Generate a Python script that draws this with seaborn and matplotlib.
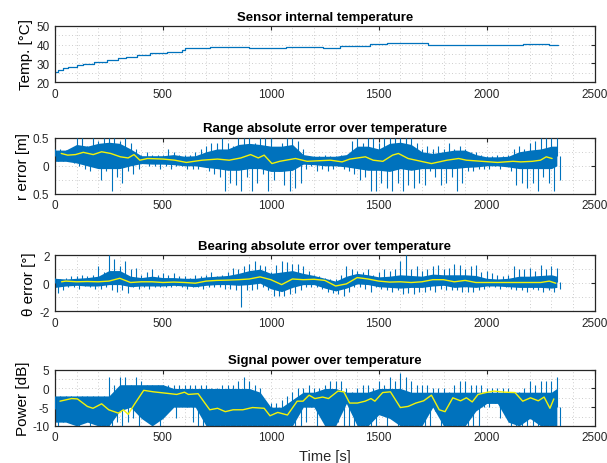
import numpy as np
import pandas as pd
import matplotlib
matplotlib.use("Agg")
import matplotlib.pyplot as plt
import seaborn as sns
from matplotlib.ticker import MultipleLocator, FixedLocator, FixedFormatter

# ---------------- data ----------------
# temperature staircase
temp_t = [0, 12, 35, 60, 100, 130, 180, 240, 290, 330, 380, 440, 520, 590, 600, 720,
          900, 930, 1070, 1240, 1320, 1460, 1540, 1730, 2170, 2290, 2330]
temp_v = [25.5, 26.5, 27.5, 28.3, 29.0, 29.8, 30.8, 31.6, 32.6, 33.5, 34.5, 35.5, 36.3,
          37.3, 38.0, 38.8, 38.3, 38.0, 38.6, 38.3, 39.5, 40.5, 40.8, 40.0, 40.5, 40.0, 40.0]

# common sample grids
t_spk = list(range(0, 2326, 25))            # 0..2325 every 25 s (94 points)
t_core = list(range(0, 2301, 50)) + [2325]  # 48 points

# range error
rng_hi = [0.3, 0.3, 0.28, 0.3, 0.5, 0.5, 0.35, 0.5, 0.45, 0.5, 0.5, 0.5, 0.45, 0.5, 0.4, 0.3,
          0.2, 0.25, 0.2, 0.2, 0.2, 0.3, 0.25, 0.2, 0.2, 0.2, 0.25, 0.3, 0.35, 0.4, 0.4, 0.5,
          0.4, 0.35, 0.5, 0.5, 0.5, 0.4, 0.5, 0.5, 0.5, 0.3, 0.4, 0.5, 0.5, 0.45, 0.3, 0.18,
          0.18, 0.18, 0.2, 0.18, 0.18, 0.2, 0.18, 0.45, 0.5, 0.4, 0.5, 0.5, 0.4, 0.5, 0.5, 0.5,
          0.5, 0.5, 0.5, 0.4, 0.3, 0.35, 0.3, 0.35, 0.3, 0.4, 0.3, 0.35, 0.3, 0.25, 0.25, 0.2,
          0.18, 0.18, 0.2, 0.18, 0.2, 0.3, 0.35, 0.3, 0.4, 0.45, 0.5, 0.5, 0.5, 0.5]
rng_lo = [0.08, 0.08, 0.1, 0.05, 0.0, -0.05, -0.1, 0.0, -0.25, -0.1, -0.45, -0.2, -0.3, -0.1,
          -0.15, -0.05, 0.05, 0.0, 0.0, -0.05, 0.0, -0.05, 0.0, 0.0, -0.05, -0.05, -0.05, 0.0,
          -0.1, -0.15, -0.2, -0.45, -0.3, -0.35, -0.45, -0.2, -0.45, -0.3, -0.15, -0.45, -0.25,
          -0.1, -0.35, -0.45, -0.4, -0.3, -0.05, 0.0, -0.1, -0.05, -0.1, -0.05, 0.0, -0.05,
          -0.1, -0.15, -0.25, -0.2, -0.45, -0.45, -0.3, -0.4, -0.45, -0.3, -0.45, -0.35, -0.4,
          -0.3, -0.35, -0.1, -0.2, -0.35, -0.3, -0.2, -0.45, -0.3, -0.1, -0.1, -0.05, -0.05,
          -0.05, 0.0, -0.05, 0.0, -0.1, -0.35, -0.3, -0.4, -0.3, -0.45, -0.2, -0.3, -0.45, -0.25]
rng_core_hi = [0.28, 0.28, 0.38, 0.35, 0.4, 0.42, 0.4, 0.3, 0.18, 0.18, 0.18, 0.2, 0.17, 0.18,
               0.25, 0.3, 0.3, 0.38, 0.4, 0.38, 0.35, 0.35, 0.38, 0.2, 0.17, 0.17, 0.17, 0.2,
               0.35, 0.35, 0.3, 0.4, 0.42, 0.38, 0.25, 0.22, 0.25, 0.28, 0.28, 0.2, 0.16, 0.16,
               0.17, 0.25, 0.28, 0.3, 0.35, 0.35]
rng_core_lo = [0.08, 0.08, 0.05, 0.0, -0.05, -0.05, -0.05, 0.0, 0.04, 0.03, 0.03, 0.02, 0.0,
               0.0, -0.03, -0.05, -0.08, -0.08, -0.05, -0.05, -0.1, -0.1, -0.08, 0.03, 0.02,
               0.0, 0.0, -0.02, -0.05, -0.08, -0.08, -0.1, -0.05, -0.08, -0.05, -0.05, -0.05,
               -0.05, -0.03, -0.02, 0.0, 0.0, -0.02, -0.05, -0.05, -0.05, -0.05, 0.0]
rng_avg_t = [29, 59, 95, 131, 177, 216, 258, 303, 339, 366, 393, 429, 501, 555, 609, 681, 753,
             807, 861, 906, 942, 969, 1005, 1041, 1114, 1168, 1276, 1330, 1366, 1438, 1474,
             1519, 1564, 1591, 1636, 1708, 1744, 1816, 1870, 1906, 1978, 2050, 2122, 2158,
             2212, 2249, 2276, 2303]
rng_avg = [0.22, 0.19, 0.2, 0.24, 0.2, 0.25, 0.22, 0.16, 0.14, 0.2, 0.1, 0.13, 0.12, 0.1, 0.06,
           0.1, 0.12, 0.1, 0.14, 0.2, 0.14, 0.19, 0.04, 0.08, 0.13, 0.08, 0.1, 0.07, 0.12, 0.16,
           0.1, 0.08, 0.19, 0.22, 0.13, 0.07, 0.04, 0.1, 0.13, 0.1, 0.08, 0.06, 0.08, 0.07,
           0.08, 0.1, 0.16, 0.13]

# bearing error
brg_hi = [0.4, 0.3, 0.4, 0.5, 0.5, 0.6, 0.5, 0.6, 1.2, 0.8, 2.0, 1.7, 1.2, 1.6, 1.0, 1.1, 0.6,
          0.8, 1.0, 0.6, 0.7, 0.6, 0.7, 0.5, 0.5, 0.4, 0.6, 0.5, 0.6, 0.8, 0.5, 0.6, 0.8, 1.1,
          1.0, 1.2, 1.4, 1.6, 1.3, 1.2, 0.8, 1.3, 1.6, 1.5, 1.4, 1.4, 1.2, 0.9, 0.6, 0.5, 0.4,
          0.3, 0.3, 0.6, 1.2, 1.0, 0.9, 0.8, 1.0, 0.6, 0.8, 1.0, 0.9, 1.0, 1.6, 2.0, 1.0, 1.2,
          0.9, 1.0, 1.2, 1.3, 1.0, 1.1, 1.4, 1.3, 1.0, 1.2, 1.3, 0.8, 0.9, 0.7, 0.6, 0.5, 0.6,
          1.2, 1.0, 1.0, 1.1, 0.9, 1.3, 1.0, 1.2, 1.1]
brg_lo = [-0.7, -0.5, -0.3, -0.3, -0.4, -0.2, -0.3, -0.4, -0.4, -0.3, -0.5, -0.6, -0.5, -0.7,
          -0.3, -0.4, -0.3, -0.4, -0.3, -0.3, -0.3, -0.3, -0.2, -0.3, -0.4, -0.3, -0.3, -0.4,
          -0.3, -0.3, -0.3, -0.4, -0.4, -0.5, -1.7, -0.5, -0.5, -0.4, -0.3, -0.5, -0.9, -0.9,
          -0.9, -0.8, -0.7, -0.5, -0.3, -0.3, -0.3, -0.4, -0.6, -0.7, -0.8, -0.9, -0.6, -0.3,
          -0.3, -0.4, -0.6, -0.3, -0.4, -0.5, -0.6, -0.5, -0.8, -0.7, -0.8, -0.6, -0.6, -0.5,
          -0.6, -0.4, -0.5, -0.5, -0.5, -0.6, -0.6, -0.6, -0.5, -0.4, -0.3, -0.3, -0.4, -0.3,
          -0.4, -0.5, -0.5, -0.6, -0.4, -0.5, -0.6, -0.5, -0.6, -0.4]
brg_core_hi = [0.35, 0.3, 0.35, 0.4, 0.5, 0.9, 0.9, 0.5, 0.4, 0.5, 0.4, 0.4, 0.35, 0.35, 0.45,
               0.5, 0.55, 0.7, 0.9, 1.0, 0.7, 0.8, 0.9, 0.7, 0.55, 0.35, 0.15, 0.5, 0.7, 0.6,
               0.45, 0.5, 0.6, 0.55, 0.5, 0.65, 0.6, 0.6, 0.6, 0.55, 0.35, 0.3, 0.35, 0.5, 0.5,
               0.55, 0.6, 0.5]
brg_core_lo = [-0.3, -0.2, -0.15, -0.2, -0.2, -0.1, -0.1, -0.25, -0.2, -0.2, -0.2, -0.15, -0.2,
               -0.25, -0.15, -0.1, -0.1, -0.15, -0.1, 0.0, -0.4, -0.6, -0.3, -0.1, -0.1, -0.35,
               -0.55, -0.35, -0.05, -0.1, -0.25, -0.3, -0.35, -0.3, -0.3, -0.2, -0.15, -0.3,
               -0.25, -0.3, -0.2, -0.2, -0.25, -0.3, -0.3, -0.3, -0.35, -0.3]
brg_avg_t = [30, 50, 100, 150, 200, 250, 300, 350, 400, 450, 500, 550, 600, 650, 700, 750,
             800, 850, 900, 950, 1000, 1050, 1100, 1150, 1200, 1250, 1300, 1350, 1400, 1450,
             1500, 1550, 1600, 1650, 1700, 1750, 1800, 1850, 1900, 1950, 2000, 2050, 2100,
             2150, 2200, 2250, 2290, 2320]
brg_avg = [0.1, 0.15, 0.1, 0.12, 0.1, 0.15, 0.35, 0.05, 0.1, 0.1, 0.05, 0.08, 0.05, 0.0, 0.15,
           0.2, 0.22, 0.25, 0.3, 0.45, 0.25, -0.1, 0.3, 0.25, 0.28, 0.2, -0.2, -0.05, 0.4, 0.3,
           0.15, 0.08, 0.1, 0.05, 0.1, 0.25, 0.25, 0.1, 0.2, 0.05, 0.05, 0.05, 0.05, 0.05, 0.05,
           0.05, 0.15, 0.0]

# signal power
pwr_hi = [-2, -2, -2, -2, -2, -2, -2, -2, -2, -2, 3, 1, 3, 3, 1, 3, 2, 1, 1, 1, 1, 1, 1, 1, 1,
          1, 1, 1, 1, 0, 0, 1, 1, 1, 2, 3, 2, 1, 0, -4, -4, -4, -3, -2, -1, 0, 0, 1, 0, 0, 1, 2,
          2, 2, 0, -1, 0, 1, 1, 0, 2, 1, 3, 2, 4, 3, 2, 1, 1, 1, 0, 0, 0, -1, 1, 2, 2, 1, 1, 1,
          0, 0, 0, 0, 0, -1, -1, 0, 2, 1, 2, 2, 2, 3]
pwr_lo = [-10, -9, -4, -9, -10, -9, -10, -9, -10, -10, -10, -9, -10, -9, -8, -10, -4, -5, -4,
          -10, -4, -5, -8, -4, -5, -9, -10, -10, -10, -10, -10, -10, -10, -10, -10, -10, -10,
          -10, -10, -10, -10, -10, -10, -10, -10, -10, -9, -5, -10, -5, -8, -4, -9, -10, -10,
          -10, -10, -10, -10, -10, -4, -10, -8, -10, -10, -10, -10, -10, -10, -10, -6, -10,
          -10, -10, -10, -10, -10, -10, -10, -5, -5, -4, -8, -4, -10, -10, -10, -10, -10, -10,
          -10, -10, -10, -10]
pwr_core_hi = [-2, -2, -2, -2, -2, -2, 1, 1, 1, 1, 1, 0, 0, 0, 0, 0, 0, 0, 0, -1, -5, -5, -3,
               -1, -1, 0, 0, -1, -1, -1, 0, 0, 0, -1, -1, -1, -1, -1, -1, -1, -1, -1, -1, -1,
               -1, -1, -1, 0]
pwr_core_lo = [-9, -9, -10, -9, -10, -10, -6, -5, -8, -10, -8, -5, -5, -5, -10, -10, -10, -10,
               -10, -10, -10, -10, -10, -5, -5, -10, -10, -4, -10, -10, -7, -8, -10, -10, -10,
               -5, -10, -10, -10, -6, -4, -4, -9, -10, -8, -10, -10, -10]
pwr_avg_t = [23, 77, 104, 150, 176, 216, 249, 294, 317, 339, 366, 411, 456, 519, 564, 600,
             618, 663, 717, 753, 789, 825, 870, 915, 969, 996, 1032, 1077, 1122, 1149, 1177,
             1204, 1240, 1267, 1311, 1338, 1365, 1401, 1437, 1464, 1482, 1518, 1554, 1600,
             1636, 1672, 1708, 1744, 1780, 1807, 1843, 1879, 1906, 1933, 1960, 1996, 2032,
             2086, 2131, 2167, 2203, 2239, 2266, 2293, 2311]
pwr_avg = [-3.4, -2.7, -2.8, -4.8, -5.3, -4.1, -5.7, -6.6, -5.7, -6.9, -4.4, -0.5, -0.9, -1.3,
           -1.6, -1.0, -1.6, -1.4, -5.7, -5.3, -6.2, -5.7, -5.7, -5.1, -5.3, -7.3, -6.4, -7.1,
           -3.4, -3.4, -1.8, -2.7, -2.3, -2.7, -0.7, -0.9, -3.9, -3.9, -3.4, -2.7, -3.4, -1.1,
           -0.9, -5.1, -4.8, -3.9, -3.3, -1.8, -5.7, -6.2, -2.5, -3.3, -2.5, -3.6, -1.6, -1.1,
           -0.7, -1.0, -1.1, -3.4, -2.5, -3.3, -2.3, -5.3, -2.8]

# ---------------- style ----------------
BLUE = "#0072BD"
YEL = "#F2F20A"
sns.set_theme(style="white")
plt.rcParams["font.family"] = ["Liberation Sans", "DejaVu Sans"]

fig = plt.figure(figsize=(6.07, 4.64), dpi=100)
L, W, H = 0.0906, 0.889, 0.121
bottoms = [0.821, 0.580, 0.327, 0.080]
axes = [fig.add_axes([L, b, W, H]) for b in bottoms]


def noisy(ax, hi, lo, chi, clo, avg_t, avg):
    ax.fill_between(t_core, clo, chi, color=BLUE, lw=0, zorder=2)
    mid = np.interp(t_spk, t_core, np.add(chi, clo) / 2.0)
    # upward excursions at each sample time, downward ones half a step later
    ax.vlines(t_spk, mid, hi, color=BLUE, lw=0.8, zorder=3)
    ax.vlines(np.add(t_spk, 12.5), lo, mid, color=BLUE, lw=0.8, zorder=3)
    da = pd.DataFrame({"t": avg_t, "v": avg})
    sns.lineplot(data=da, x="t", y="v", ax=ax, color=YEL, lw=1.0, sort=False,
                 estimator=None, zorder=4)


# 1 temperature
dt = pd.DataFrame({"t": temp_t, "v": temp_v})
sns.lineplot(data=dt, x="t", y="v", ax=axes[0], color=BLUE, lw=0.9, drawstyle="steps-post",
             estimator=None, sort=False)

noisy(axes[1], rng_hi, rng_lo, rng_core_hi, rng_core_lo, rng_avg_t, rng_avg)
noisy(axes[2], brg_hi, brg_lo, brg_core_hi, brg_core_lo, brg_avg_t, brg_avg)
noisy(axes[3], pwr_hi, pwr_lo, pwr_core_hi, pwr_core_lo, pwr_avg_t, pwr_avg)

titles = ["Sensor internal temperature", "Range absolute error over temperature",
          "Bearing absolute error over temperature", "Signal power over temperature"]
ylabels = ["Temp. [°C]", "r error [m]", "θ error [°]", "Power [dB]"]
ylims = [(20, 50), (-0.5, 0.5), (-2, 2), (-10, 5)]
yticks = [[20, 30, 40, 50], [-0.5, 0, 0.5], [-2, 0, 2], [-10, -5, 0, 5]]
ytl = [["20", "30", "40", "50"], ["0.5", "0", "0.5"], ["-2", "0", "2"],
       ["-10", "-5", "0", "5"]]
yminor = [5, 0.25, 1, 2.5]

for ax, ti, yl, lim, yt, tl, mn in zip(axes, titles, ylabels, ylims, yticks, ytl, yminor):
    ax.set_xlim(0, 2500)
    ax.set_ylim(*lim)
    ax.set_title(ti, fontsize=9.5, fontweight="bold", pad=4.5, color="black")
    ax.set_ylabel(yl, fontsize=11, labelpad=2, color="black")
    ax.set_xlabel("")
    ax.set_xticks([0, 500, 1000, 1500, 2000, 2500])
    ax.xaxis.set_minor_locator(MultipleLocator(100))
    ax.yaxis.set_major_locator(FixedLocator(yt))
    ax.yaxis.set_major_formatter(FixedFormatter(tl))
    ax.yaxis.set_minor_locator(MultipleLocator(mn))
    ax.grid(True, which="both", linestyle=(0, (1, 3)), color="#bdbdbd", lw=0.6)
    ax.set_axisbelow(True)
    ax.tick_params(axis="both", which="major", direction="in", length=3, width=0.8,
                   labelsize=8.5, colors="#262626", top=True, right=True, pad=4)
    ax.tick_params(axis="both", which="minor", length=0, top=True, right=True)
    for s in ax.spines.values():
        s.set_visible(True)
        s.set_color("#262626")
        s.set_linewidth(0.9)

axes[3].set_xlabel("Time [s]", fontsize=10.5, color="#262626", labelpad=4)

fig.savefig("out.png", dpi=100, facecolor="white")
